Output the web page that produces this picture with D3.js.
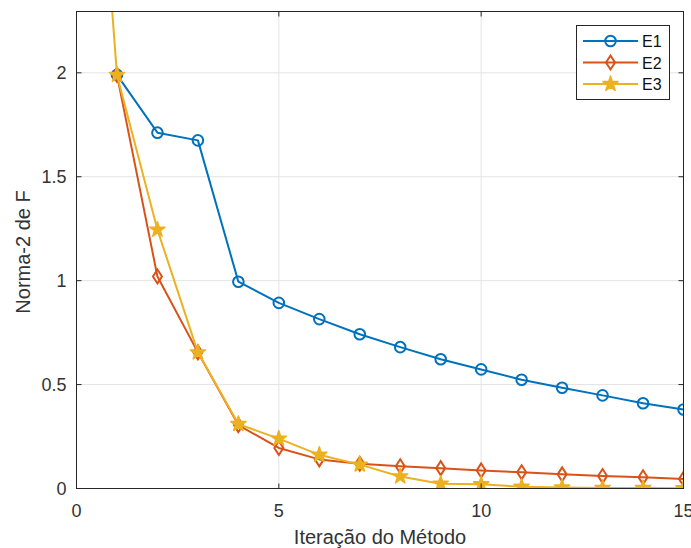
<!DOCTYPE html>
<html><head><meta charset="utf-8">
<script src="https://cdn.jsdelivr.net/npm/d3@7"></script>
<style>body{margin:0;background:#fff}svg{display:block}</style>
</head><body>
<svg id="c" width="691" height="548"></svg>
<script>
const xE1 = [1,2,3,4,5,6,7,8,9,10,11,12,13,14,15];
const E1 = [1.99,1.712,1.675,0.995,0.893,0.815,0.742,0.68,0.622,0.573,0.523,0.485,0.448,0.41,0.38];
const xE2 = [1,2,3,4,5,6,7,8,9,10,11,12,13,14,15];
const E2 = [1.99,1.02,0.655,0.305,0.195,0.14,0.119,0.107,0.098,0.087,0.078,0.068,0.06,0.054,0.046];
const xE3 = [0,1,2,3,4,5,6,7,8,9,10,11,12,13,14,15];
const E3 = [4.6,1.99,1.245,0.655,0.31,0.24,0.162,0.115,0.058,0.023,0.02,0.008,0.005,0.003,0.002,0.001];
const xTicks = [0,5,10,15];
const yTicks = [0,0.5,1,1.5,2];
const yTickLabels = ["0","0.5","1","1.5","2"];
const seriesNames = ["E1","E2","E3"];
const colors = ["#0072BD","#D95319","#EDB120"];

const svg = d3.select("#c");
const L=76.5, R=683.5, T=11.5, B=488.5;
const x = d3.scaleLinear().domain([0,15]).range([L,R]);
const y = d3.scaleLinear().domain([0,2.295]).range([B,T]);
const axisCol = "#262626";
const font = "'Liberation Sans', Arial, sans-serif";

// grid
const g = svg.append("g");
g.selectAll(".gx").data(xTicks).enter().append("line")
  .attr("x1",d=>x(d)).attr("x2",d=>x(d)).attr("y1",T).attr("y2",B)
  .attr("stroke","#e3e3e3").attr("stroke-width",1);
g.selectAll(".gy").data(yTicks).enter().append("line")
  .attr("x1",L).attr("x2",R).attr("y1",d=>y(d)).attr("y2",d=>y(d))
  .attr("stroke","#e3e3e3").attr("stroke-width",1);

// clip
svg.append("defs").append("clipPath").attr("id","clip")
  .append("rect").attr("x",L).attr("y",T).attr("width",R-L).attr("height",B-T);

const data = [
  xE1.map((d,i)=>[d,E1[i]]),
  xE2.map((d,i)=>[d,E2[i]]),
  xE3.map((d,i)=>[d,E3[i]])
];
const line = d3.line().x(d=>x(d[0])).y(d=>y(d[1]));
const plot = svg.append("g").attr("clip-path","url(#clip)");

function star(cx,cy,r){
  const pts=[];
  const ri=r*0.382;
  for(let k=0;k<10;k++){
    const a=-Math.PI/2+k*Math.PI/5;
    const rr=k%2?ri:r;
    pts.push([cx+rr*Math.cos(a),cy+rr*Math.sin(a)]);
  }
  return "M"+pts.map(p=>p.join(",")).join("L")+"Z";
}
function diamond(cx,cy){
  return `M${cx},${cy-7}L${cx+4.5},${cy}L${cx},${cy+7}L${cx-4.5},${cy}Z`;
}
function drawMarker(sel,i,cx,cy){
  if(i===0) sel.append("circle").attr("cx",cx).attr("cy",cy).attr("r",5.3)
      .attr("fill","none").attr("stroke",colors[0]).attr("stroke-width",2);
  else if(i===1) sel.append("path").attr("d",diamond(cx,cy))
      .attr("fill","none").attr("stroke",colors[1]).attr("stroke-width",2);
  else sel.append("path").attr("d",star(cx,cy,8))
      .attr("fill",colors[2]).attr("stroke",colors[2]).attr("stroke-width",1.5).attr("stroke-linejoin","round");
}

data.forEach((ds,i)=>{
  plot.append("path").datum(ds).attr("d",line).attr("fill","none")
    .attr("stroke",colors[i]).attr("stroke-width",2).attr("stroke-linejoin","round");
  ds.forEach(d=>drawMarker(plot,i,x(d[0]),y(d[1])));
});

// axes box
svg.append("rect").attr("x",L).attr("y",T).attr("width",R-L).attr("height",B-T)
  .attr("fill","none").attr("stroke",axisCol).attr("stroke-width",1);

// ticks
const tl=5;
xTicks.forEach(t=>{
  svg.append("line").attr("x1",x(t)).attr("x2",x(t)).attr("y1",B).attr("y2",B-tl).attr("stroke",axisCol);
  svg.append("line").attr("x1",x(t)).attr("x2",x(t)).attr("y1",T).attr("y2",T+tl).attr("stroke",axisCol);
});
yTicks.forEach(t=>{
  svg.append("line").attr("x1",L).attr("x2",L+tl).attr("y1",y(t)).attr("y2",y(t)).attr("stroke",axisCol);
  svg.append("line").attr("x1",R).attr("x2",R-tl).attr("y1",y(t)).attr("y2",y(t)).attr("stroke",axisCol);
});

// tick labels
svg.selectAll(".xl").data(xTicks).enter().append("text")
  .attr("x",d=>x(d)).attr("y",517).attr("text-anchor","middle")
  .attr("font-family",font).attr("font-size",18).attr("fill","#333").text(d=>d);
svg.selectAll(".yl").data(yTicks).enter().append("text")
  .attr("x",L-10).attr("y",d=>y(d)+6.5).attr("text-anchor","end")
  .attr("font-family",font).attr("font-size",18).attr("fill","#333").text((d,i)=>yTickLabels[i]);

// axis labels
svg.append("text").attr("x",(L+R)/2).attr("y",544).attr("text-anchor","middle")
  .attr("font-family",font).attr("font-size",20).attr("fill","#333").text("Iteração do Método");
svg.append("text").attr("transform",`translate(30,${(T+B)/2+2}) rotate(-90)`).attr("text-anchor","middle")
  .attr("font-family",font).attr("font-size",20).attr("fill","#333").text("Norma-2 de F");

// legend
const lg = svg.append("g");
lg.append("rect").attr("x",576.5).attr("y",25.5).attr("width",93).attr("height",74)
  .attr("fill","#fff").attr("stroke",axisCol).attr("stroke-width",1);
seriesNames.forEach((n,i)=>{
  const cy = 41 + i*21.5;
  lg.append("line").attr("x1",583).attr("x2",638).attr("y1",cy).attr("y2",cy)
    .attr("stroke",colors[i]).attr("stroke-width",2);
  drawMarker(lg,i,610.5,cy);
  lg.append("text").attr("x",642).attr("y",cy+6).attr("font-family",font)
    .attr("font-size",16).attr("fill","#111").text(n);
});
</script>
</body></html>
